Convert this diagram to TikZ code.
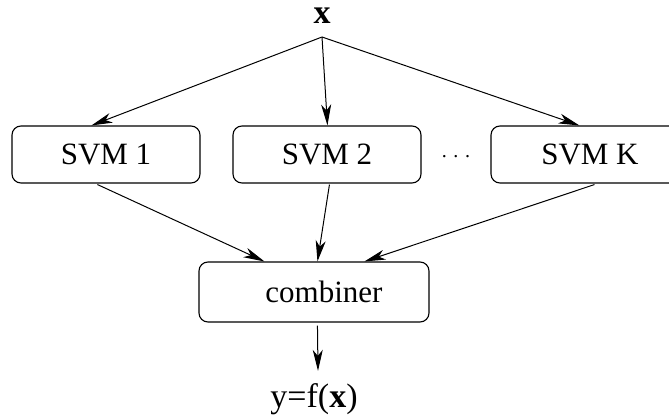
\documentclass[tikz,border=0pt]{standalone}
\usepackage{fontspec}
\setmainfont{Liberation Serif}
\usetikzlibrary{arrows.meta,calc}
\begin{document}
\begin{tikzpicture}[x=1pt,y=-1pt,
  box/.style={draw, rounded corners=9pt, line width=1.1pt, minimum width=188pt,
    minimum height=57pt, inner sep=0pt, font=\fontsize{31}{36}\selectfont},
  link/.style={line width=1pt, -{Stealth[length=21pt,width=10pt,inset=6pt]}},
  lbl/.style={font=\fontsize{34}{40}\selectfont, inner sep=0pt}]
\useasboundingbox (0,0) rectangle (669,420);
\clip (0,0) rectangle (669,420);

% input and output labels
\node[lbl, anchor=base] (xin) at (322,24) {\textbf{x}};
\node[lbl, anchor=base] (out) at (314,407) {y=f(\textbf{x})};

% classifier boxes
\node[box] (svm1) at (106,154.5) {SVM 1};
\node[box] (svm2) at (327,154.5) {SVM 2};
\node[box] (svmk) at (585,154.5) {\hspace*{10pt}SVM K};
\node[font=\fontsize{20}{24}\selectfont, anchor=base, inner sep=0pt] (dots) at (456,157) {. . .};

% combiner box
\node[box, minimum width=230pt, minimum height=60pt] (comb) at (314,292) {\hspace*{20pt}combiner};

% fan-out from the input
\coordinate (apex) at ($(xin.base)+(0,13)$);
\draw[link] (apex) -- ($(svm1.north west)+(80,0)$);
\draw[link] (apex) -- ($(svm2.north west)+(95,0)$);
\draw[link] (apex) -- ($(svmk.north west)+(89,0)$);

% fan-in to the combiner
\draw[link] ($(svm1.south west)+(86,1)$) -- ($(comb.north west)+(66,0)$);
\draw[link] ($(svm2.south west)+(97,1)$) -- ($(comb.north west)+(119,0)$);
\draw[link] ($(svmk.south west)+(104,1)$) -- ($(comb.north west)+(166,0)$);

% combiner output
\draw[link] ($(comb.south west)+(119,3)$) -- ($(out.north)+(4,-12)$);
\end{tikzpicture}
\end{document}
